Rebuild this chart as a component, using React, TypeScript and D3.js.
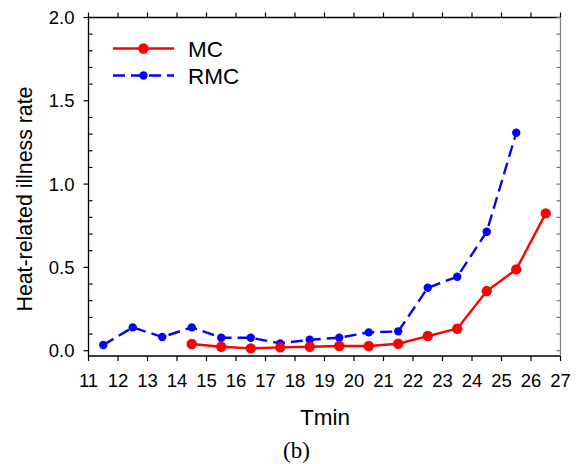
import { useEffect, useRef } from 'react'
import * as d3 from 'd3'

// Tmin bins (midpoints) and rates
const mcTmin = [14.5, 15.5, 16.5, 17.5, 18.5, 19.5, 20.5, 21.5, 22.5, 23.5, 24.5, 25.5, 26.5]
const mcRate = [0.04, 0.024, 0.014, 0.02, 0.024, 0.028, 0.028, 0.042, 0.088, 0.132, 0.358, 0.488, 0.824]

const rmcTmin = [11.5, 12.5, 13.5, 14.5, 15.5, 16.5, 17.5, 18.5, 19.5, 20.5, 21.5, 22.5, 23.5, 24.5, 25.5]
const rmcRate = [0.034, 0.14, 0.082, 0.14, 0.078, 0.078, 0.044, 0.066, 0.078, 0.11, 0.116, 0.378, 0.444, 0.714, 1.308]

const xTicks = d3.range(11, 28)
const yMajor = [0, 0.5, 1.0, 1.5, 2.0]
const yMinor = d3.range(0, 2.01, 0.1)

export default function App() {
  const svgRef = useRef<SVGSVGElement>(null)

  useEffect(() => {
    if (!svgRef.current) return
    const svg = d3.select(svgRef.current)
    svg.selectAll('*').remove()

    const width = 579
    const height = 464
    const left = 88.5, right = 560.5, top = 17.5, bottom = 356

    const x = d3.scaleLinear().domain([11, 27]).range([left, right])
    const y = d3.scaleLinear().domain([0, 2]).range([350.7, 17.5])

    const font = 'Arial, "Liberation Sans", sans-serif'

    svg.append('rect').attr('width', width).attr('height', height).attr('fill', '#fff')

    // frame
    svg.append('line').attr('x1', left).attr('x2', right).attr('y1', top).attr('y2', top)
      .attr('stroke', '#000').attr('stroke-width', 1.3)
    svg.append('line').attr('x1', left).attr('x2', right).attr('y1', bottom).attr('y2', bottom)
      .attr('stroke', '#000').attr('stroke-width', 1.3)
    svg.append('line').attr('x1', left).attr('x2', left).attr('y1', top).attr('y2', bottom)
      .attr('stroke', '#000').attr('stroke-width', 1.3)
    svg.append('line').attr('x1', right).attr('x2', right).attr('y1', top).attr('y2', bottom)
      .attr('stroke', '#888').attr('stroke-width', 1.3)

    // x ticks, bottom (outward) and top (outward)
    xTicks.forEach(t => {
      svg.append('line').attr('x1', x(t)).attr('x2', x(t)).attr('y1', bottom).attr('y2', bottom + 5)
        .attr('stroke', '#000').attr('stroke-width', 1.2)
      svg.append('line').attr('x1', x(t)).attr('x2', x(t)).attr('y1', top).attr('y2', top - 5)
        .attr('stroke', '#000').attr('stroke-width', 1.2)
      svg.append('text').attr('x', x(t)).attr('y', 387)
        .attr('text-anchor', 'middle').style('font-family', font).style('font-size', '18.5px')
        .text(t)
    })

    // y ticks: major outward on the left, minor inward; right side inward
    yMinor.forEach(v => {
      const isMajor = yMajor.some(m => Math.abs(m - v) < 1e-6)
      if (isMajor) {
        svg.append('line').attr('x1', left - 5).attr('x2', left).attr('y1', y(v)).attr('y2', y(v))
          .attr('stroke', '#000').attr('stroke-width', 1.2)
      } else {
        svg.append('line').attr('x1', left).attr('x2', left + 4).attr('y1', y(v)).attr('y2', y(v))
          .attr('stroke', '#000').attr('stroke-width', 1.2)
      }
      svg.append('line').attr('x1', right - 4).attr('x2', right).attr('y1', y(v)).attr('y2', y(v))
        .attr('stroke', '#777').attr('stroke-width', 1.2)
    })
    yMajor.forEach(v => {
      svg.append('text').attr('x', left - 14).attr('y', y(v)).attr('dy', '0.36em')
        .attr('text-anchor', 'end').style('font-family', font).style('font-size', '18.5px')
        .text(v.toFixed(1))
    })

    // axis titles
    svg.append('text').attr('transform', `translate(32,199) rotate(-90)`)
      .attr('text-anchor', 'middle').style('font-family', font).style('font-size', '21.3px')
      .text('Heat-related illness rate')
    svg.append('text').attr('x', 325).attr('y', 425).attr('text-anchor', 'middle')
      .style('font-family', font).style('font-size', '22.5px').text('Tmin')
    svg.append('text').attr('x', 296.5).attr('y', 458).attr('text-anchor', 'middle')
      .style('font-family', '"Liberation Serif", "Times New Roman", serif').style('font-size', '23px').text('(b)')

    const line = d3.line<[number, number]>().x(d => x(d[0])).y(d => y(d[1]))

    const mc = mcTmin.map((t, i) => [t, mcRate[i]] as [number, number])
    const rmc = rmcTmin.map((t, i) => [t, rmcRate[i]] as [number, number])

    // RMC
    svg.append('path').datum(rmc).attr('d', line).attr('fill', 'none')
      .attr('stroke', '#0000ff').attr('stroke-width', 2.4).attr('stroke-dasharray', '12,6')
    svg.selectAll('.rmc').data(rmc).enter().append('circle')
      .attr('cx', d => x(d[0])).attr('cy', d => y(d[1])).attr('r', 4.2).attr('fill', '#0000ff')

    // MC
    svg.append('path').datum(mc).attr('d', line).attr('fill', 'none')
      .attr('stroke', '#ff0000').attr('stroke-width', 2.4)
    svg.selectAll('.mc').data(mc).enter().append('circle')
      .attr('cx', d => x(d[0])).attr('cy', d => y(d[1])).attr('r', 5.2).attr('fill', '#ff0000')

    // legend
    const legend = [
      { label: 'MC', color: '#ff0000', dash: null, r: 5.2, yy: 48.5 },
      { label: 'RMC', color: '#0000ff', dash: '12,6', r: 4.2, yy: 75.5 },
    ]
    legend.forEach(d => {
      svg.append('line').attr('x1', 113).attr('x2', 174).attr('y1', d.yy).attr('y2', d.yy)
        .attr('stroke', d.color).attr('stroke-width', 2.4)
        .attr('stroke-dasharray', d.dash ?? 'none')
      svg.append('circle').attr('cx', 143.5).attr('cy', d.yy).attr('r', d.r).attr('fill', d.color)
      svg.append('text').attr('x', 188).attr('y', d.yy).attr('dy', '0.36em')
        .style('font-family', font).style('font-size', '22.5px').text(d.label)
    })
  }, [])

  return (
    <svg ref={svgRef} width={579} height={464}
      style={{ position: 'absolute', left: 0, top: 0, display: 'block' }} />
  )
}
